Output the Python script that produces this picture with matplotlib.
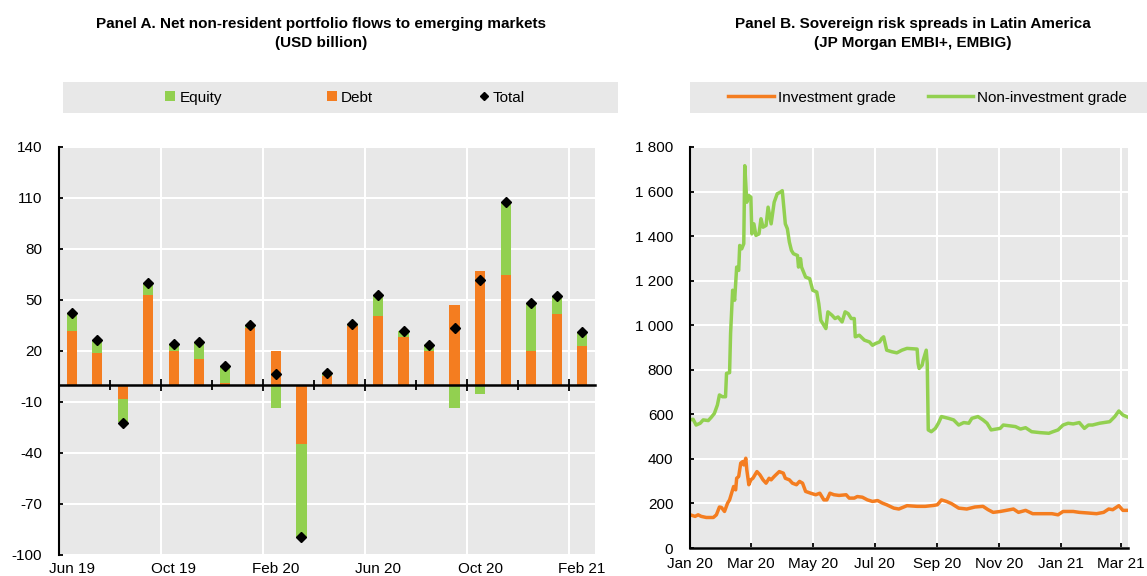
import numpy as np
import matplotlib.pyplot as plt
import matplotlib.dates as mdates
from matplotlib.patches import Rectangle, Patch
from matplotlib.lines import Line2D
from matplotlib.ticker import FuncFormatter

plt.rcParams['font.family'] = ['Liberation Sans', 'DejaVu Sans']
plt.rcParams['axes.unicode_minus'] = False

# Panel A: monthly flows, USD billion
months = ['Jun 19', 'Jul 19', 'Aug 19', 'Sep 19', 'Oct 19', 'Nov 19', 'Dec 19',
          'Jan 20', 'Feb 20', 'Mar 20', 'Apr 20', 'May 20', 'Jun 20', 'Jul 20',
          'Aug 20', 'Sep 20', 'Oct 20', 'Nov 20', 'Dec 20', 'Jan 21', 'Feb 21']
debt = [32, 19, -8, 53, 20, 15, 1, 33.5, 20, -35, 5, 34.5, 40.5, 28, 20, 47, 67,
        64.5, 20, 42, 23]
equity = [10.5, 7.5, -14, 7, 4, 10, 10, 1.5, -13.5, -55, 2, 1.5, 12.5, 4, 3.5,
          -13.5, -5.5, 43, 28.5, 10.5, 8]
total = [42.5, 26.5, -22.5, 60, 24, 25, 11, 35, 6.5, -89.5, 7, 36, 53, 32, 23.5,
         33.5, 61.5, 107.5, 48.5, 52.5, 31]

# Panel B: spreads (bp), days counted from 1 Jan 2020
nig_days = [0, 3, 6, 10, 13, 18, 21, 24, 27, 29, 32, 35, 36, 39, 40, 42, 44, 46, 48,
            49, 51, 53, 54, 56, 58, 60, 61, 63, 65, 68, 70, 72, 75, 77, 80, 83, 86,
            89, 91, 94, 96, 98, 100, 102, 106, 107, 109, 110, 114, 118, 121, 125,
            127, 129, 132, 134, 136, 140, 143, 146, 150, 153, 156, 159, 162, 163,
            167, 172, 177, 180, 183, 187, 189, 191, 194, 199, 204, 209, 214, 224,
            225, 226, 229, 230, 233, 234, 235, 238, 242, 245, 248, 255, 260, 265,
            270, 275, 278, 284, 289, 293, 297, 302, 306, 309, 316, 321, 326, 331,
            337, 345, 354, 358, 363, 368, 373, 378, 384, 389, 393, 397, 404, 414,
            419, 423, 427, 432]
nig_spread = [575, 578, 552, 560, 575, 572, 587, 604, 642, 687, 679, 679, 784, 787,
              963, 1157, 1112, 1261, 1246, 1358, 1343, 1366, 1716, 1552, 1582, 1575,
              1410, 1455, 1403, 1410, 1478, 1440, 1448, 1530, 1455, 1552, 1590, 1597,
              1604, 1455, 1433, 1373, 1336, 1321, 1313, 1261, 1299, 1261, 1216, 1209,
              1157, 1149, 1097, 1022, 1000, 985, 1060, 1045, 1030, 1037, 1015, 1060,
              1052, 1030, 1030, 948, 955, 933, 925, 910, 918, 925, 940, 948, 888, 881,
              876, 888, 896, 893, 828, 806, 821, 843, 888, 828, 530, 522, 537, 560,
              590, 582, 575, 552, 563, 560, 582, 590, 575, 560, 530, 534, 537, 552,
              548, 545, 534, 540, 522, 518, 515, 522, 530, 552, 560, 557, 563, 537,
              552, 552, 560, 567, 590, 615, 597, 587]
ig_days = [0, 5, 8, 11, 16, 23, 26, 29, 31, 34, 37, 39, 41, 43, 45, 46, 48, 50, 52,
           53, 55, 56, 58, 60, 62, 66, 69, 72, 75, 78, 80, 83, 88, 92, 94, 98, 101,
           105, 108, 111, 114, 119, 124, 128, 132, 135, 138, 142, 147, 154, 157,
           162, 165, 170, 175, 180, 185, 190, 194, 201, 206, 214, 224, 232, 240,
           244, 248, 253, 258, 265, 273, 281, 289, 294, 299, 306, 312, 319, 324,
           331, 338, 348, 357, 363, 368, 378, 384, 393, 401, 408, 413, 417, 423,
           427, 432]
ig_spread = [149, 142, 149, 142, 137, 137, 149, 184, 182, 164, 201, 216, 246, 276,
             261, 313, 321, 381, 388, 373, 403, 351, 284, 306, 313, 343, 328, 306,
             291, 313, 306, 321, 343, 336, 313, 306, 291, 284, 299, 291, 254, 246,
             239, 246, 216, 216, 246, 239, 236, 239, 224, 224, 231, 228, 216, 209,
             213, 201, 194, 179, 175, 190, 187, 187, 191, 194, 216, 209, 199, 179,
             175, 184, 187, 172, 160, 164, 169, 175, 160, 169, 154, 154, 154, 149,
             164, 164, 160, 157, 154, 160, 175, 172, 190, 169, 169]

orange = '#F47D20'
green = '#92D050'
bg = '#E8E8E8'
fs = 11

fig = plt.figure(figsize=(11.47, 5.76), dpi=100)

# ---- Panel A ----
axA = fig.add_axes([0.0514, 0.0365, 0.4673, 0.7083])
axA.set_facecolor(bg)
x = np.arange(len(months))
debt_a = np.array(debt)
eq_a = np.array(equity)
eq_bottom = np.where(np.sign(eq_a) == np.sign(debt_a), debt_a, 0)
axA.bar(x, debt_a, width=0.4, color=orange, zorder=2)
axA.bar(x, eq_a, width=0.4, bottom=eq_bottom, color=green, zorder=2)
axA.plot(x, total, 'D', color='black', ms=5.5, zorder=3)

axA.set_xlim(-0.5, len(months) - 0.5)
axA.set_ylim(-100, 140)
axA.set_yticks(np.arange(-100, 141, 30))
axA.spines['top'].set_visible(False)
axA.spines['right'].set_visible(False)
axA.spines['left'].set_linewidth(1.5)
axA.spines['bottom'].set_position(('data', 0))
axA.spines['bottom'].set_linewidth(1.8)
axA.set_xticks(np.arange(3.5, len(months), 4))
axA.set_xticks(np.arange(1.5, len(months), 4), minor=True)
axA.tick_params(axis='x', which='both', direction='inout', labelbottom=False, width=1.3)
axA.tick_params(axis='x', which='major', length=8.5)
axA.tick_params(axis='x', which='minor', length=6.5)
axA.tick_params(axis='y', direction='in', length=3, width=1.3, pad=12, labelsize=fs)
axA.grid(axis='x', which='major', color='white', lw=1.5)
axA.grid(axis='y', color='white', lw=1.5)
axA.set_axisbelow(True)

lab_pos = list(range(0, len(months), 4))
sec = axA.secondary_xaxis('bottom')
sec.set_xticks(lab_pos, labels=[months[i] for i in lab_pos])
sec.tick_params(length=0, pad=5, labelsize=fs)
sec.spines['bottom'].set_visible(False)

# ---- Panel B ----
axB = fig.add_axes([0.6016, 0.0486, 0.3818, 0.6962])
axB.set_facecolor(bg)
start = np.datetime64('2020-01-01')
axB.plot(start + np.array(ig_days), ig_spread, color=orange, lw=2.5)
axB.plot(start + np.array(nig_days), nig_spread, color=green, lw=2.5)
axB.set_xlim(start, start + 432)
axB.set_ylim(0, 1800)
axB.set_yticks(np.arange(0, 1801, 200))
axB.yaxis.set_major_formatter(FuncFormatter(lambda v, p: f'{int(v):,}'.replace(',', ' ')))
axB.xaxis.set_major_locator(mdates.MonthLocator(bymonth=[1, 3, 5, 7, 9, 11]))
axB.xaxis.set_major_formatter(mdates.DateFormatter('%b %y'))
for s in ['top', 'right']:
    axB.spines[s].set_visible(False)
axB.spines['left'].set_linewidth(1.5)
axB.spines['bottom'].set_linewidth(1.8)
axB.tick_params(axis='x', direction='in', length=3.5, width=1.3, pad=6.5, labelsize=fs)
axB.tick_params(axis='y', direction='in', length=3, width=1.3, pad=12, labelsize=fs)
axB.grid(color='white', lw=1.5)
axB.set_axisbelow(True)

# ---- titles ----
fig.text(0.280, 1 - 33.5 / 576,
         'Panel A. Net non-resident portfolio flows to emerging markets\n(USD billion)',
         ha='center', va='center', fontsize=11, fontweight='bold', linespacing=1.5)
fig.text(0.796, 1 - 33.5 / 576,
         'Panel B. Sovereign risk spreads in Latin America\n(JP Morgan EMBI+, EMBIG)',
         ha='center', va='center', fontsize=11, fontweight='bold', linespacing=1.5)

# ---- legends ----
fig.patches.append(Rectangle((0.0549, 0.8038), 0.4839, 0.0538, transform=fig.transFigure,
                             facecolor=bg, edgecolor='none'))
fig.patches.append(Rectangle((0.6016, 0.8038), 0.3984, 0.0538, transform=fig.transFigure,
                             facecolor=bg, edgecolor='none'))

hA = [Patch(facecolor=green), Patch(facecolor=orange),
      Line2D([], [], marker='D', color='black', ls='none', ms=4.5)]
fig.legend(hA, ['Equity', 'Debt', 'Total'], loc='center', bbox_to_anchor=(0.3008, 0.8307),
           ncol=3, frameon=False, fontsize=fs, columnspacing=6.9, handletextpad=0.26,
           handlelength=0.65, handleheight=0.65)
hB = [Line2D([], [], color=orange, lw=2.5), Line2D([], [], color=green, lw=2.5)]
fig.legend(hB, ['Investment grade', 'Non-investment grade'], loc='center',
           bbox_to_anchor=(0.8086, 0.8307), ncol=2, frameon=False, fontsize=fs,
           columnspacing=2.1, handletextpad=0.26, handlelength=3.0)

fig.savefig('out.png', dpi=100)
